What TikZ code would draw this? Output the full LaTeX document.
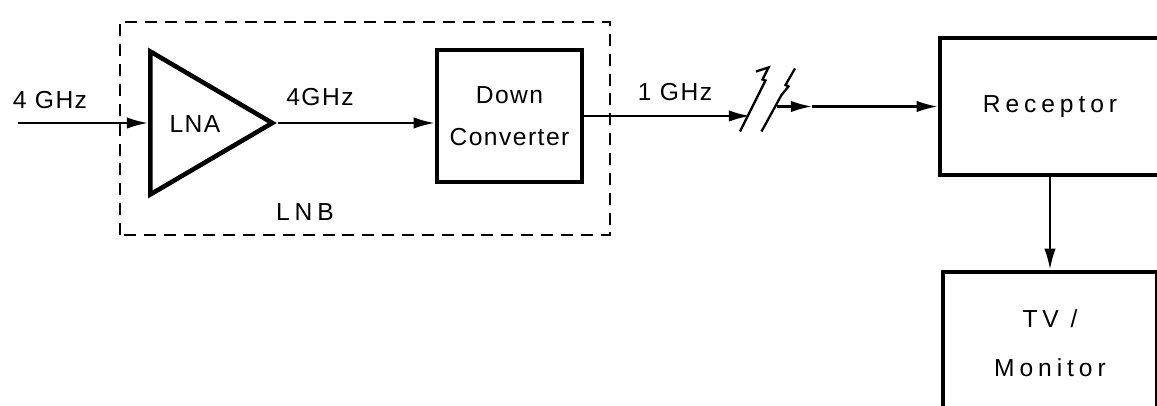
\documentclass[tikz,border=0pt]{standalone}
\usepackage{fontspec}
\setmainfont{Liberation Sans}[LetterSpace=6]
\newfontfamily\widefont{Liberation Sans}[LetterSpace=20]
\usetikzlibrary{arrows.meta,calc,shapes.geometric}

\begin{document}
\begin{tikzpicture}[x=1cm,y=1cm,every node/.style={font=\fontsize{14}{17}\selectfont},
  blk/.style={draw,line width=2.6pt,inner sep=0pt},
  sig/.style={-{Latex[length=12pt,width=6.5pt]},line width=1.3pt}]
  \useasboundingbox (0,0) rectangle (23.14,8.12);
  \clip (0,0) rectangle (23.14,8.12);
  \draw[line width=1.2pt,dash pattern=on 6.8pt off 4.5pt] (2.4,3.42) rectangle (12.2,7.68);
  \node[blk,isosceles triangle,isosceles triangle stretches,minimum width=2.86cm,minimum height=2.44cm,anchor=west] (lna) at (2.96,5.66) {};
  \node (lnatxt) at (3.9,5.64) {LNA};
  \node[blk,minimum width=2.9cm,minimum height=2.64cm,align=center] (dc) at (10.19,5.8) {Down\\[7pt]Converter};
  \node[blk,minimum width=4.4cm,minimum height=2.74cm] (rx) at (21.0,5.99) {\widefont Receptor};
  \node[blk,minimum width=4.28cm,minimum height=2.84cm,align=center] (mon) at (21.0,1.26) {\widefont TV /\\[11pt]\widefont Monitor};
  \node (fin) at (1.0,6.12) {4 GHz};
  \node (fmid) at (6.4,6.18) {4GHz};
  \node (fout) at (13.5,6.28) {1 GHz};
  \node (lnb) at (6.1,3.88) {\widefont LNB};
  \coordinate (in) at (0.36,5.62);
  \coordinate (brkA) at (15.0,5.88);
  \coordinate (brkB) at (15.54,5.99);
  \coordinate (brkC) at (16.24,5.99);
  \draw[sig] (lna.west -| in) -- (lna.west);
  \draw[sig] (lna.east) -- (lna.east -| dc.west);
  \draw[sig] (dc.east) -- (dc.east -| brkA);
  \draw[line width=1.3pt] (14.8,5.49) -- (15.31,6.51) -- (15.25,6.53) -- (15.37,6.77) -- (15.12,6.69);
  \draw[line width=1.3pt] (15.23,5.49) -- (15.63,6.22) -- (15.77,6.39) -- (15.71,6.42) -- (15.9,6.75);
  \draw[sig] (brkB) -- (brkC);
  \draw[sig] (brkC) -- (brkC -| rx.west);
  \draw[sig] (rx.south) -- (mon.north);
\end{tikzpicture}
\end{document}
